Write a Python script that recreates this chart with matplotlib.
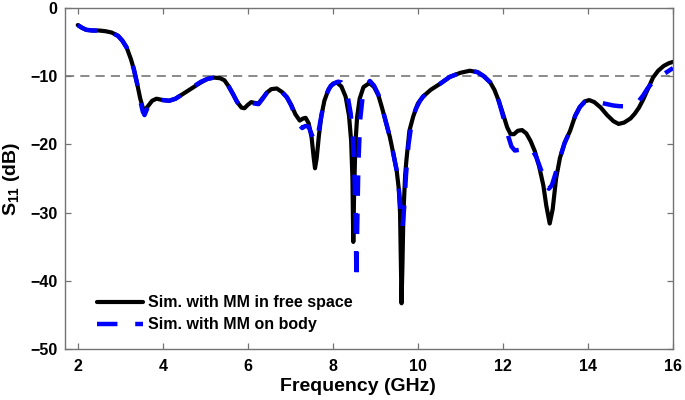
#!/usr/bin/env python3
"""S11 of the antenna with metamaterial: free space vs. on body."""

import matplotlib

matplotlib.use("Agg")
import matplotlib.pyplot as plt

# simulated with MM in free space (GHz, dB)
freq_free = [
    2.0, 2.1, 2.2, 2.35, 2.5, 2.65, 2.8, 2.95, 3.05, 3.15, 3.25, 3.32, 3.4, 3.47,
    3.53, 3.58, 3.65, 3.75, 3.85, 4.0, 4.15, 4.3, 4.5, 4.7, 4.9, 5.05, 5.2, 5.35,
    5.45, 5.55, 5.65, 5.75, 5.85, 5.92, 6.0, 6.08, 6.15, 6.25, 6.35, 6.45, 6.55,
    6.68, 6.8, 6.92, 7.02, 7.12, 7.22, 7.3, 7.36, 7.43, 7.5, 7.55, 7.58, 7.62,
    7.67, 7.73, 7.8, 7.9, 8.0, 8.09, 8.2, 8.3, 8.38, 8.43, 8.46, 8.48, 8.5, 8.53,
    8.57, 8.63, 8.72, 8.86, 8.97, 9.07, 9.15, 9.25, 9.34, 9.42, 9.5, 9.55, 9.58,
    9.6, 9.615, 9.635, 9.66, 9.7, 9.73, 9.8, 9.89, 10.0, 10.12, 10.3, 10.5, 10.75,
    11.0, 11.22, 11.4, 11.55, 11.7, 11.8, 11.9, 12.0, 12.1, 12.18, 12.26, 12.35,
    12.45, 12.55, 12.65, 12.75, 12.85, 12.95, 13.02, 13.1, 13.17, 13.25, 13.34,
    13.45, 13.58, 13.7, 13.81, 13.92, 14.03, 14.15, 14.3, 14.45, 14.6, 14.72,
    14.85, 15.0, 15.1, 15.2, 15.3, 15.4, 15.53, 15.65, 15.78, 15.9, 16.0,
]
s11_free = [
    -2.5, -2.9, -3.2, -3.3, -3.3, -3.4, -3.6, -4.1, -4.8, -5.8, -7.5, -9.0, -11.2,
    -13.3, -14.6, -15.0, -14.4, -13.6, -13.3, -13.5, -13.6, -13.3, -12.5, -11.7,
    -10.9, -10.4, -10.2, -10.3, -10.6, -11.5, -12.6, -13.8, -14.6, -14.7, -14.2,
    -13.8, -13.9, -14.0, -13.2, -12.4, -11.9, -11.8, -12.3, -13.1, -14.2, -15.6,
    -16.5, -16.2, -16.1, -16.9, -19.0, -22.0, -23.5, -22.0, -18.8, -15.8, -13.6,
    -11.9, -11.1, -10.9, -11.5, -13.0, -15.8, -19.5, -25.0, -34.3, -27.0, -20.0,
    -16.0, -13.3, -11.6, -11.0, -11.6, -12.8, -14.5, -16.8, -18.9, -21.3, -23.8,
    -26.5, -30.0, -38.0, -43.3, -38.0, -30.0, -24.5, -22.3, -18.0, -15.9, -14.0,
    -13.0, -12.0, -11.2, -10.1, -9.5, -9.2, -9.4, -10.0, -10.9, -12.0, -13.6,
    -15.5, -17.5, -18.5, -18.5, -18.0, -17.9, -18.4, -19.5, -21.0, -23.2, -26.0,
    -29.0, -31.6, -29.5, -25.0, -22.0, -19.8, -18.0, -15.8, -14.5, -13.7, -13.5,
    -13.8, -14.6, -15.7, -16.6, -17.0, -16.8, -16.2, -15.5, -14.6, -13.4, -12.0,
    -10.2, -9.2, -8.5, -8.1, -7.9,
]

# simulated with MM on body (GHz, dB)
freq_body = [
    2.0, 2.1, 2.2, 2.35, 2.5, 2.65, 2.8, 2.95, 3.05, 3.15, 3.25, 3.32, 3.4, 3.47,
    3.53, 3.57, 3.63, 3.72, 3.85, 4.0, 4.15, 4.3, 4.5, 4.7, 4.9, 5.05, 5.2, 5.35,
    5.45, 5.55, 5.65, 5.75, 5.85, 5.92, 6.0, 6.08, 6.15, 6.25, 6.35, 6.45, 6.55,
    6.68, 6.8, 6.92, 7.02, 7.12, 7.22, 7.28, 7.35, 7.43, 7.5, 7.56, 7.6, 7.65,
    7.7, 7.76, 7.85, 7.95, 8.05, 8.12, 8.2, 8.28, 8.35, 8.42, 8.47, 8.51, 8.54,
    8.555, 8.57, 8.6, 8.64, 8.7, 8.78, 8.87, 8.97, 9.07, 9.15, 9.25, 9.34, 9.42,
    9.5, 9.56, 9.6, 9.64, 9.68, 9.72, 9.78, 9.86, 9.95, 10.05, 10.12, 10.3, 10.5,
    10.75, 11.0, 11.22, 11.4, 11.55, 11.7, 11.8, 11.9, 12.0, 12.1, 12.2, 12.28,
    12.38, 12.5, 12.66, 12.78, 12.9, 13.0, 13.08, 13.15, 13.25, 13.34, 13.45,
    13.58, 13.7, 13.81, 13.92, 14.03, 14.15, 14.3, 14.45, 14.6, 14.75, 14.9, 15.0,
    15.1, 15.2, 15.3, 15.4, 15.53, 15.65, 15.78, 15.9, 16.0,
]
s11_body = [
    -2.5, -2.9, -3.2, -3.3, -3.3, -3.4, -3.6, -4.1, -4.8, -5.8, -7.5, -9.0, -11.2,
    -13.6, -15.2, -15.7, -14.8, -13.8, -13.4, -13.5, -13.6, -13.3, -12.5, -11.6,
    -10.8, -10.4, -10.2, -10.3, -10.6, -11.5, -12.6, -13.8, -14.5, -14.6, -14.2,
    -13.9, -14.0, -14.1, -13.3, -12.4, -11.9, -11.8, -12.3, -13.1, -14.3, -15.8,
    -17.2, -17.6, -17.3, -17.4, -18.5, -19.5, -19.6, -18.6, -16.8, -14.8, -12.6,
    -11.4, -11.0, -10.8, -10.9, -11.6, -13.0, -15.5, -19.0, -25.0, -33.0, -40.0,
    -33.0, -23.0, -16.5, -13.0, -11.4, -10.7, -11.4, -12.7, -14.4, -16.8, -18.9,
    -21.3, -23.8, -27.0, -30.0, -32.0, -29.0, -24.5, -20.0, -16.5, -14.8, -13.6,
    -13.0, -12.0, -11.2, -10.1, -9.5, -9.2, -9.4, -10.0, -10.9, -12.0, -13.6,
    -15.8, -18.3, -20.3, -20.9, -20.8, -20.6, -20.5, -21.8, -23.8, -25.6, -26.5,
    -26.0, -24.0, -22.0, -19.8, -18.0, -15.8, -14.5, -13.8, -13.6, -13.7, -13.9,
    -14.1, -14.3, -14.4, -14.4, -14.3, -14.0, -13.6, -12.8, -11.8, -10.8, -10.1,
    -9.7, -9.2, -8.8,
]

x_ticks = [2, 4, 6, 8, 10, 12, 14, 16]
y_ticks = [0, -10, -20, -30, -40, -50]
threshold_db = -10

plt.rcParams["font.family"] = ["Liberation Sans", "DejaVu Sans"]
plt.rcParams["font.weight"] = "bold"
plt.rcParams["mathtext.fontset"] = "custom"
plt.rcParams["mathtext.rm"] = "Liberation Sans:bold"
plt.rcParams["mathtext.bf"] = "Liberation Sans:bold"

fig = plt.figure(figsize=(6.85, 4.0), dpi=100)
ax = fig.add_axes([0.0949, 0.1275, 0.8876, 0.8525])

ax.axhline(threshold_db, color="0.42", linewidth=1.1, linestyle=(0, (6, 4)), zorder=1)
ax.plot(freq_free, s11_free, color="black", linewidth=3.0,
        solid_capstyle="round", solid_joinstyle="round",
        label="Sim. with MM in free space", zorder=2)
ax.plot(freq_body, s11_body, color="#0000ff", linewidth=3.2,
        dashes=(4.6, 4.0), label="Sim. with MM on body", zorder=3)

ax.set_xlim(1.7, 16.0)
ax.set_ylim(-50, 0)
ax.set_xticks(x_ticks)
ax.set_yticks(y_ticks)
ax.tick_params(direction="in", top=True, right=True, length=4, width=0.9,
               color="0.45", labelsize=11.5)
ax.tick_params(axis="x", pad=7.5)
ax.tick_params(axis="y", pad=5.5)
for spine in ax.spines.values():
    spine.set_color("0.45")
    spine.set_linewidth(1.0)

ax.set_xlabel("Frequency (GHz)", fontsize=14, fontweight="bold")
ax.set_ylabel(r"S$_{\mathbf{11}}$ (dB)", fontsize=14, fontweight="bold")
ax.xaxis.set_label_coords(0.482, -0.085)
ax.yaxis.set_label_coords(-0.07, 0.5)

ax.legend(loc="lower left", bbox_to_anchor=(0.042, 0.03), frameon=False,
          fontsize=11.5, handlelength=2.9, handletextpad=0.3,
          borderaxespad=0.0, labelspacing=0.45)

fig.savefig("out.png", dpi=100)
